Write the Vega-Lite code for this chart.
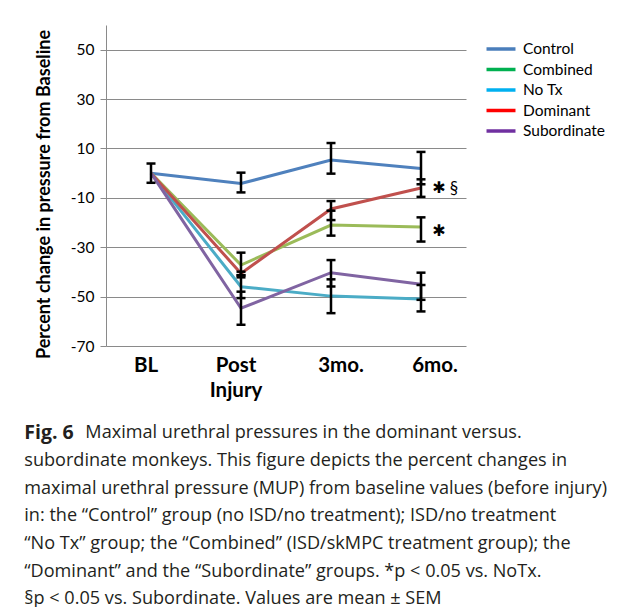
{
  "$schema": "https://vega.github.io/schema/vega-lite/v6.json",
  "autosize": {"type": "none"},
  "padding": {"left": 106, "top": 25, "right": 157, "bottom": 261},
  "width": 360,
  "height": 321,
  "background": "white",
  "datasets": {
    "mup": [
      {"group": "Control", "time": "BL", "mean": 0, "lo": -3.9, "hi": 3.9},
      {"group": "Control", "time": "Post Injury", "mean": -4.2, "lo": -7.8, "hi": 0.2},
      {"group": "Control", "time": "3mo.", "mean": 5.3, "lo": -0.2, "hi": 12.2},
      {"group": "Control", "time": "6mo.", "mean": 1.9, "lo": -4.5, "hi": 8.6},
      {"group": "Combined", "time": "BL", "mean": 0, "lo": null, "hi": null},
      {"group": "Combined", "time": "Post Injury", "mean": -37.2, "lo": -42.2, "hi": -32.2},
      {"group": "Combined", "time": "3mo.", "mean": -21, "lo": -25.3, "hi": -15.2},
      {"group": "Combined", "time": "6mo.", "mean": -21.8, "lo": -27.7, "hi": -17.9},
      {"group": "No Tx", "time": "BL", "mean": 0, "lo": null, "hi": null},
      {"group": "No Tx", "time": "Post Injury", "mean": -46, "lo": -50.6, "hi": -41.4},
      {"group": "No Tx", "time": "3mo.", "mean": -49.8, "lo": -56.7, "hi": -43},
      {"group": "No Tx", "time": "6mo.", "mean": -51, "lo": -56, "hi": -45.3},
      {"group": "Dominant", "time": "BL", "mean": 0, "lo": null, "hi": null},
      {"group": "Dominant", "time": "Post Injury", "mean": -40.6, "lo": -41.3, "hi": -39.9},
      {"group": "Dominant", "time": "3mo.", "mean": -14.5, "lo": -19, "hi": -11.3},
      {"group": "Dominant", "time": "6mo.", "mean": -6, "lo": -9.6, "hi": -2.5},
      {"group": "Subordinate", "time": "BL", "mean": 0, "lo": null, "hi": null},
      {"group": "Subordinate", "time": "Post Injury", "mean": -54.7, "lo": -61.4, "hi": -48},
      {"group": "Subordinate", "time": "3mo.", "mean": -40.3, "lo": -45.9, "hi": -35.2},
      {"group": "Subordinate", "time": "6mo.", "mean": -45, "lo": -51.3, "hi": -40.3}
    ],
    "notes": [
      {"group": "Dominant", "time": "6mo.", "y": -5.9, "label": "✱"},
      {"group": "Dominant", "time": "6mo.", "y": -5.9, "label": "§"},
      {"group": "Combined", "time": "6mo.", "y": -23.6, "label": "✱"}
    ]
  },
  "data": {"name": "mup"},
  "encoding": {
    "x": {
      "field": "time", "type": "nominal",
      "sort": ["BL", "Post Injury", "3mo.", "6mo."],
      "scale": {"type": "band", "paddingInner": 0, "paddingOuter": 0},
      "axis": {
        "title": null, "domain": false, "ticks": false,
        "labelAngle": 0, "labelFont": "Lato", "labelFontSize": 20.5, "labelFontWeight": "bold",
        "labelColor": "#000000", "labelPadding": 9, "labelLineHeight": 25,
        "labelOffset": {"condition": [
          {"test": "datum.value == '3mo.'", "value": 10},
          {"test": "datum.value == '6mo.'", "value": 14}
        ], "value": -5},
        "labelExpr": "split(datum.label, ' ')"
      }
    },
    "y": {
      "field": "mean", "type": "quantitative",
      "scale": {"domain": [-70, 60], "nice": false, "zero": false},
      "axis": {
        "title": "Percent change in pressure from Baseline",
        "titleFont": "Lato", "titleFontSize": 18, "titleFontWeight": "bold", "titleColor": "#000000",
        "titlePadding": 17, "titleY": 169,
        "values": [-70, -50, -30, -10, 10, 30, 50],
        "labelExpr": "'' + datum.value",
        "labelFont": "Lato", "labelFontSize": 15.5, "labelColor": "#000000", "labelPadding": 6,
        "grid": true, "gridColor": "#8a8a8a", "gridWidth": 1,
        "domainColor": "#8a8a8a", "domainWidth": 1,
        "tickColor": "#8a8a8a", "tickSize": 6
      }
    }
  },
  "layer": [
    {
      "mark": {"type": "line", "opacity": 0},
      "encoding": {
        "color": {
          "field": "group", "type": "nominal",
          "scale": {
            "domain": ["Control", "Combined", "No Tx", "Dominant", "Subordinate"],
            "range": ["#4a7ebb", "#00b050", "#00b0f0", "#ff0000", "#7030a0"]
          },
          "legend": {
            "title": null, "orient": "none", "legendX": 386, "legendY": 15,
            "symbolType": "M-2,0H2", "symbolSize": 210, "symbolStrokeWidth": 3.5, "symbolOpacity": 1,
            "labelFont": "Lato", "labelFontSize": 15.5, "labelColor": "#000000",
            "labelOffset": 13, "rowPadding": 2.5
          }
        }
      }
    },
    {
      "mark": {"type": "line", "strokeWidth": 3},
      "encoding": {
        "stroke": {
          "field": "group", "type": "nominal",
          "scale": {
            "domain": ["Subordinate", "No Tx", "Dominant", "Combined", "Control"],
            "range": ["#8064a2", "#4bacc6", "#c0504d", "#9bbb59", "#4f81bd"]
          },
          "legend": null
        }
      }
    },
    {
      "data": {"values": [{}]},
      "mark": {"type": "rule", "color": "#000000", "strokeWidth": 3},
      "encoding": {"x": null, "y": {"datum": 0}}
    },
    {
      "mark": {"type": "rule", "color": "#000000", "strokeWidth": 2.5},
      "encoding": {"y": {"field": "lo", "type": "quantitative"}, "y2": {"field": "hi"}}
    },
    {
      "mark": {"type": "tick", "color": "#000000", "size": 9, "thickness": 2.5, "opacity": 1},
      "encoding": {"y": {"field": "lo", "type": "quantitative"}}
    },
    {
      "mark": {"type": "tick", "color": "#000000", "size": 9, "thickness": 2.5, "opacity": 1},
      "encoding": {"y": {"field": "hi", "type": "quantitative"}}
    },
    {
      "data": {"name": "notes"},
      "transform": [{"filter": "datum.label == '✱'"}],
      "mark": {"type": "text", "align": "center", "baseline": "middle", "dx": 18, "font": "DejaVu Sans", "fontSize": 16, "color": "#000000"},
      "encoding": {"y": {"field": "y", "type": "quantitative"}, "text": {"field": "label"}}
    },
    {
      "data": {"name": "notes"},
      "transform": [{"filter": "datum.label == '§'"}],
      "mark": {"type": "text", "align": "center", "baseline": "middle", "dx": 33, "dy": 1, "font": "Lato", "fontSize": 17, "color": "#000000"},
      "encoding": {"y": {"field": "y", "type": "quantitative"}, "text": {"field": "label"}}
    }
  ],
  "title": {
    "text": "Fig. 6",
    "subtitle": [
      "\u200b\u00a0\u00a0\u00a0\u00a0\u00a0\u00a0\u00a0\u00a0\u00a0\u00a0\u00a0\u00a0\u00a0Maximal urethral pressures in the dominant versus.",
      "subordinate monkeys. This figure depicts the percent changes in",
      "maximal urethral pressure (MUP) from baseline values (before injury)",
      "in: the “Control” group (no ISD/no treatment); ISD/no treatment",
      "“No Tx” group; the “Combined” (ISD/skMPC treatment group); the",
      "“Dominant” and the “Subordinate” groups. *p < 0.05 vs. NoTx.",
      "§p < 0.05 vs. Subordinate. Values are mean ± SEM"
    ],
    "orient": "bottom", "anchor": "start", "frame": "bounds",
    "font": "Open Sans", "fontSize": 19.5, "fontWeight": "bold", "color": "#231f20",
    "subtitleFont": "Open Sans", "subtitleFontSize": 18.1, "subtitleFontWeight": "normal", "subtitleColor": "#231f20",
    "subtitleLineHeight": 27.7, "subtitlePadding": -18.8,
    "offset": 23, "dx": -11
  },
  "config": {"view": {"stroke": null}, "font": "Lato"}
}
